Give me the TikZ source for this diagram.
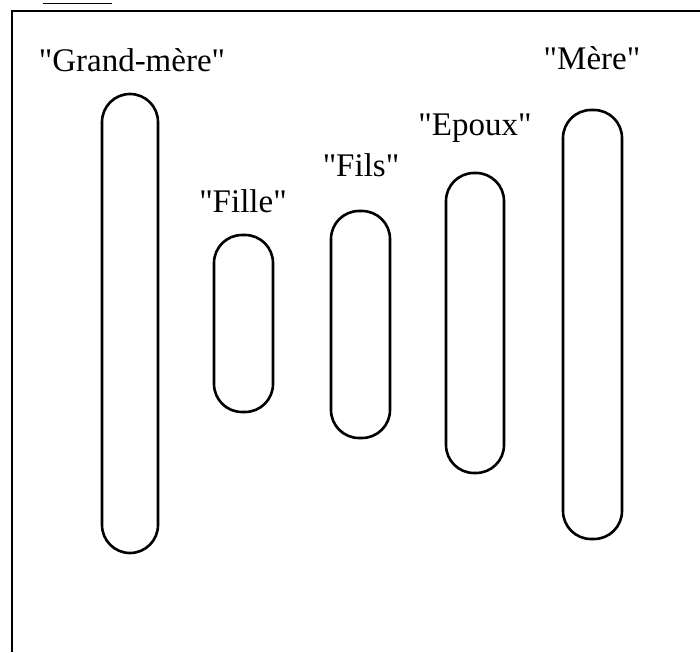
\documentclass[tikz,border=0pt]{standalone}
\usepackage{fontspec}
\newfontfamily\labelfont{Liberation Serif}

\begin{document}
\begin{tikzpicture}
        [x=1pt,y=-1pt,line width=2.6pt,
         every node/.style={font=\labelfont\fontsize{33}{36}\selectfont},
         capsule/.style={draw,inner sep=0pt,rounded corners=28pt},
         label text/.style={anchor=base}]
        \useasboundingbox (0,0) rectangle (700,652);
        % frame
        \draw (700,11) -- (12,11) -- (12,652);
        \draw[line width=1pt] (43,4) -- (112,4);

        \node[capsule,minimum width=56pt,minimum height=459pt] (GM) at (130,323.5) {};
        \node[capsule,minimum width=59pt,minimum height=177pt] (FI) at (243.5,323.5) {};
        \node[capsule,minimum width=59pt,minimum height=227pt] (FS) at (360.5,324.5) {};
        \node[capsule,minimum width=58pt,minimum height=300pt] (EP) at (475,323) {};
        \node[capsule,minimum width=59pt,minimum height=429pt] (ME) at (592.5,324.5) {};

        \node[label text] (tGM) at (132,72) {"Grand-mère"};
        \node[label text] (tFI) at (243,212) {"Fille"};
        \node[label text] (tFS) at (361,177) {"Fils"};
        \node[label text] (tEP) at (475,136) {"Epoux"};
        \node[label text] (tME) at (592,70) {"Mère"};
    
    \end{tikzpicture}
\end{document}
